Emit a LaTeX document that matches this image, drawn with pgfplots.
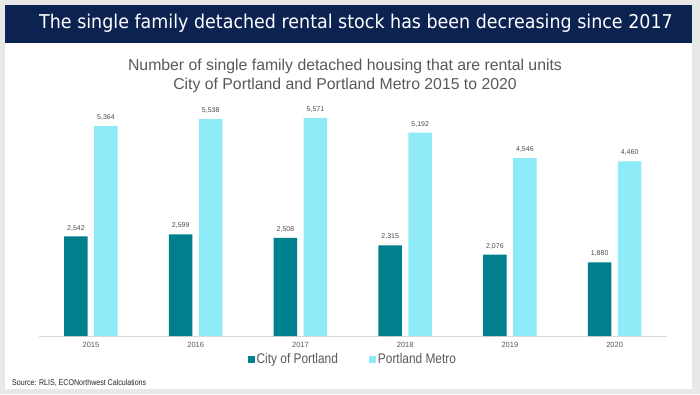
\documentclass[border=0pt]{standalone}
\usepackage{pgfplots}
\pgfplotsset{compat=1.18}
\usepackage{fontspec}
\setmainfont{Liberation Sans}
\newfontfamily\titlefont{DejaVu Sans}[FakeStretch=0.92]
\newfontfamily\narrowfont{Liberation Sans}[FakeStretch=0.85]
\definecolor{navy}{HTML}{0C2352}
\definecolor{bggray}{HTML}{E8E8E8}
\definecolor{city}{HTML}{00808C}
\definecolor{metro}{HTML}{8DEAF6}
\definecolor{txtgray}{HTML}{595959}
\begin{document}
\begin{tikzpicture}[x=1pt,y=1pt]
\fill[bggray] (0,0) rectangle (700,394);
\fill[white] (5,5) rectangle (692,389);
\fill[navy] (5,351) rectangle (692,389);
\node[anchor=west, inner sep=0pt, text=white, font=\titlefont\fontsize{19}{22}\selectfont] at (39,371) {The single family detached rental stock has been decreasing since 2017};
\node[text=txtgray, font=\fontsize{15.8}{18}\selectfont] at (345,328) {Number of single family detached housing that are rental units};
\node[text=txtgray, font=\fontsize{15.8}{18}\selectfont] at (345,309) {City of Portland and Portland Metro 2015 to 2020};
\begin{axis}[at={(38.6pt,58pt)}, anchor=south west, scale only axis,
  width=628.4pt, height=234.9pt,
  xmin=-0.5, xmax=5.5, ymin=0, ymax=6000,
  axis y line=none, axis x line*=bottom,
  x axis line style={draw=black!15, -},
  xtick={0,1,2,3,4,5},
  xticklabels={2015,2016,2017,2018,2019,2020},
  major tick length=0pt,
  xticklabel style={font=\fontsize{7.5}{8}\selectfont, text=txtgray, yshift=-3pt},
  ybar, bar width=23.5pt, clip=false,
  /pgf/number format/1000 sep={,},
  /pgf/number format/assume math mode=true,
  nodes near coords,
  nodes near coords style={font=\fontsize{7}{8}\selectfont, text=black!70, yshift=2pt},
  legend style={at={(axis description cs:0.5,0)}, yshift=-23pt, anchor=center, draw=none, fill=none,
    legend columns=2, font=\narrowfont\fontsize{14}{16}\selectfont, text=txtgray,
    /tikz/every even column/.append style={column sep=29pt}},
]
\addplot[fill=city, draw=none, bar shift=-15pt,
  legend image code/.code={\fill[city] (0pt,-3.5pt) rectangle (7pt,3.5pt);}]
  coordinates {(0,2542) (1,2599) (2,2508) (3,2315) (4,2076) (5,1880)};
\addlegendentry{City of Portland}
\addplot[fill=metro, draw=none, bar shift=15pt,
  legend image code/.code={\fill[metro] (0pt,-3.5pt) rectangle (7pt,3.5pt);}]
  coordinates {(0,5364) (1,5538) (2,5571) (3,5192) (4,4546) (5,4460)};
\addlegendentry{Portland Metro}
\end{axis}
\node[anchor=west, inner sep=0pt, text=black!85, font=\narrowfont\fontsize{8.3}{9}\selectfont] at (12,11) {Source: RLIS, ECONorthwest Calculations};
\pgfresetboundingbox
\useasboundingbox (0,0) rectangle (700,394);
\end{tikzpicture}
\end{document}
